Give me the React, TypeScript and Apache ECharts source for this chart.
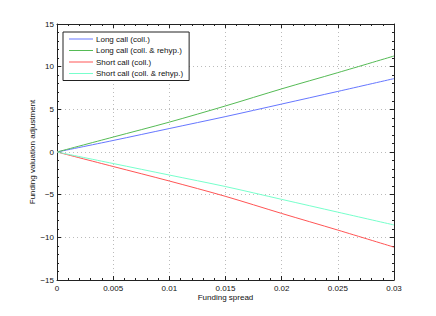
import React, { useEffect, useRef } from "react";
import * as echarts from "echarts";

const spreads = [0, 0.005, 0.01, 0.015, 0.02, 0.025, 0.03];
const seriesNames = [
  "Long call (coll.)",
  "Long call (coll. & rehyp.)",
  "Short call (coll.)",
  "Short call (coll. & rehyp.)",
];
const longColl = [0, 1.35, 2.75, 4.15, 5.62, 7.1, 8.6];
const longRehyp = [0, 1.75, 3.5, 5.4, 7.4, 9.3, 11.25];
const shortColl = [0, -1.7, -3.4, -5.2, -7.2, -9.15, -11.15];
const shortRehyp = [0, -1.35, -2.7, -4.05, -5.55, -7.05, -8.55];
const colors = ["#6677ff", "#55bb55", "#ff5555", "#77ffcc"];

const FONT = "'Liberation Sans', Arial, Helvetica, sans-serif";
const FS = 8;

export default function App() {
  const ref = useRef<HTMLDivElement>(null);
  useEffect(() => {
    if (!ref.current) return;
    const chart = echarts.init(ref.current, null, { renderer: "svg" });
    const allY = [longColl, longRehyp, shortColl, shortRehyp];
    const fmtX = (v: number) => (v === 0 ? "0" : String(+v.toFixed(3)));
    const fmtY = (v: number) => String(v).replace("-", "\u2212");
    const tickCommon = {
      axisLine: { show: true, onZero: false, lineStyle: { color: "#222", width: 1 } },
      axisTick: { show: true, inside: true, length: 4, lineStyle: { color: "#222" } },
      minorTick: { show: true, splitNumber: 5, length: 2, lineStyle: { color: "#222" } },
    };
    chart.setOption({
      animation: false,
      backgroundColor: "#fff",
      textStyle: { fontFamily: FONT },
      grid: { left: 57, right: 42, top: 24, bottom: 36, containLabel: false },
      legend: {
        orient: "vertical",
        left: 63,
        top: 32,
        padding: [2, 6, 2, 6],
        itemGap: 1.5,
        itemWidth: 24,
        itemHeight: 1,
        icon: "rect",
        borderColor: "#222",
        borderWidth: 1,
        backgroundColor: "#fff",
        textStyle: {
          fontSize: FS,
          fontFamily: FONT,
          color: "#111",
          lineHeight: 10,
          padding: [0, 0, 0, -2],
        },
        data: seriesNames,
      },
      xAxis: [
        {
          type: "value",
          min: 0,
          max: 0.03,
          interval: 0.005,
          name: "Funding spread",
          nameLocation: "middle",
          nameGap: 13,
          nameMoveOverlap: false,
          nameTextStyle: { fontSize: FS, color: "#111", fontFamily: FONT },
          axisLabel: { fontSize: FS, color: "#111", margin: 4, formatter: fmtX, fontFamily: FONT },
          splitLine: { show: true, lineStyle: { color: "#bbb", type: [1, 3], width: 1 } },
          ...tickCommon,
        },
        {
          type: "value",
          position: "top",
          min: 0,
          max: 0.03,
          interval: 0.005,
          axisLabel: { show: false },
          splitLine: { show: false },
          ...tickCommon,
        },
      ],
      yAxis: [
        {
          type: "value",
          min: -15,
          max: 15,
          interval: 5,
          name: "Funding valuation adjustment",
          nameLocation: "middle",
          nameGap: 21,
          nameMoveOverlap: false,
          nameTextStyle: { fontSize: FS, color: "#111", fontFamily: FONT },
          axisLabel: { fontSize: FS, color: "#111", margin: 3, formatter: fmtY, fontFamily: FONT },
          splitLine: { show: true, lineStyle: { color: "#bbb", type: [1, 3], width: 1 } },
          ...tickCommon,
        },
        {
          type: "value",
          position: "right",
          min: -15,
          max: 15,
          interval: 5,
          axisLabel: { show: false },
          splitLine: { show: false },
          ...tickCommon,
        },
      ],
      series: seriesNames.map((name, i) => ({
        name,
        type: "line",
        data: spreads.map((x, j) => [x, allY[i][j]]),
        showSymbol: false,
        symbol: "none",
        smooth: 0.3,
        lineStyle: { color: colors[i], width: 1 },
        itemStyle: { color: colors[i] },
      })),
    });
    return () => chart.dispose();
  }, []);
  return <div ref={ref} style={{ width: 436, height: 316, position: "absolute", left: 0, top: 0 }} />;
}
